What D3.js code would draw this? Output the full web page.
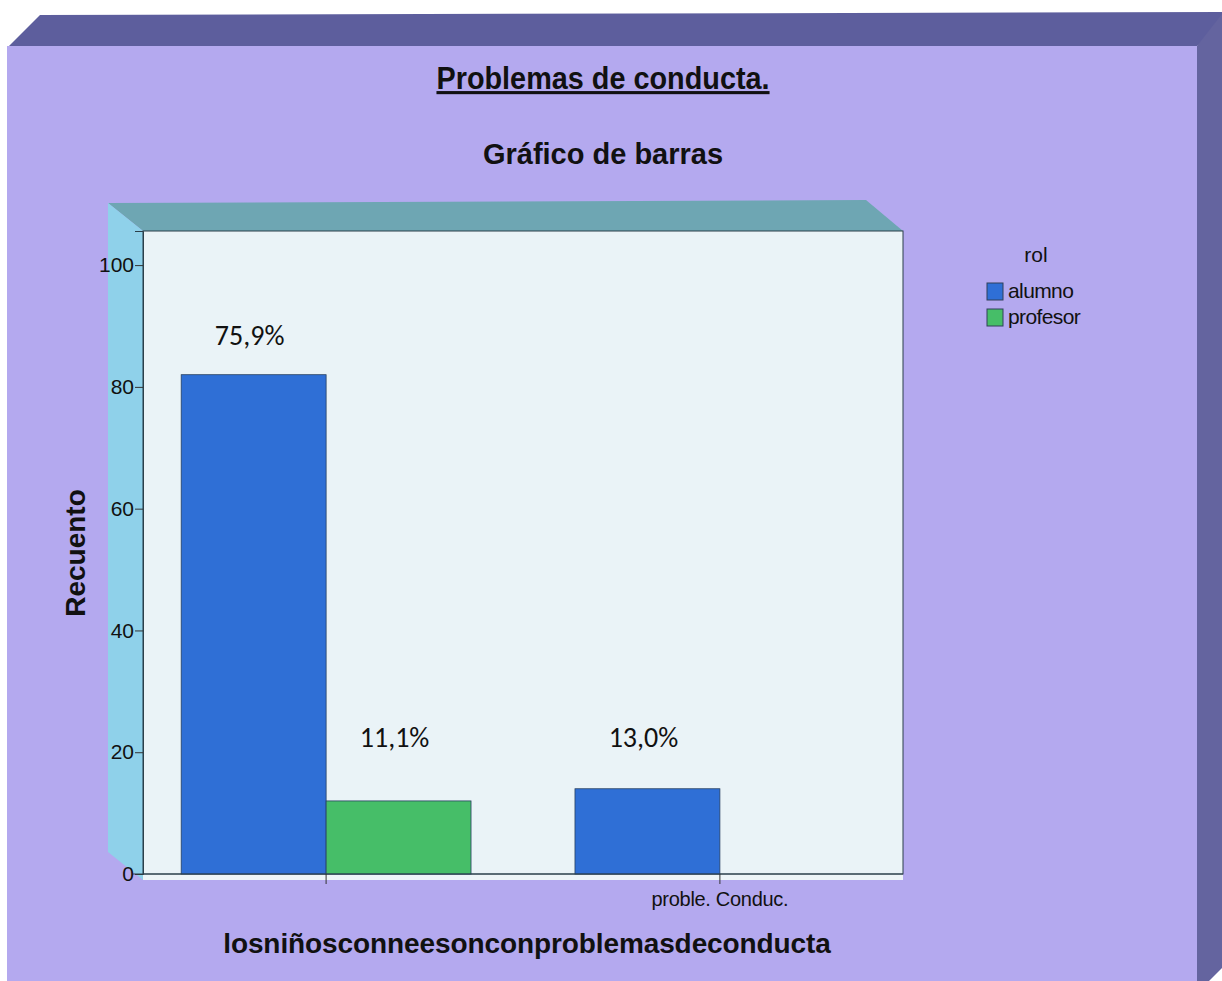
<!DOCTYPE html>
<html>
<head>
<meta charset="utf-8">
<script src="https://cdn.jsdelivr.net/npm/d3@7"></script>
<style>
  body { margin: 0; background: #fff; }
  text { fill: #111; }
</style>
</head>
<body>
<div id="chart"></div>
<script>
// data
const categories = ["", "proble. Conduc."];
const roles = ["alumno", "profesor"];
const alumno = [82, 14];
const profesor = [12, 0];
const yTicks = [0, 20, 40, 60, 80, 100];

const width = 1222, height = 981;
const plot = { left: 143, right: 903, top: 231, bottom: 874 };
const depth = { dx: -35, dy: -28 };

const colors = { alumno: "#2f6fd6", profesor: "#46be68" };
const sans = "'Liberation Sans',Arial,sans-serif";

const svg = d3.select("#chart").append("svg")
  .attr("width", width)
  .attr("height", height);

// outer 3d panel
svg.append("polygon")
  .attr("points", "7,48 40,15 1222,12 1222,30 1197,46")
  .attr("fill", "#5d5e9d");
svg.append("polygon")
  .attr("points", "1197,46 1222,14 1222,968 1209,981 1197,981")
  .attr("fill", "#64649f");
svg.append("rect")
  .attr("x", 7).attr("y", 46)
  .attr("width", 1190).attr("height", 935)
  .attr("fill", "#b4a9ef");

// titles
svg.append("text")
  .attr("transform", "translate(603,89) scale(0.93,1)")
  .attr("text-anchor", "middle")
  .style("font-family", sans)
  .style("font-weight", "bold")
  .style("font-size", "31px")
  .style("text-decoration", "underline")
  .text("Problemas de conducta.");

svg.append("text")
  .attr("x", 603).attr("y", 164)
  .attr("text-anchor", "middle")
  .style("font-family", sans)
  .style("font-weight", "bold")
  .style("font-size", "29px")
  .text("Gráfico de barras");

// plot box with 3d walls
const L = plot.left, R = plot.right, T = plot.top, B = plot.bottom;
svg.append("polygon")
  .attr("points", `${L + depth.dx},${T + depth.dy} ${R - 37},${T + depth.dy - 3} ${R},${T} ${L},${T}`)
  .attr("fill", "#6ea6b3");
svg.append("polygon")
  .attr("points", `${L + depth.dx},${T + depth.dy} ${L},${T} ${L},${B + 6} ${L + depth.dx},${B - 22}`)
  .attr("fill", "#8fd1ea");
svg.append("rect")
  .attr("x", L).attr("y", B)
  .attr("width", R - L).attr("height", 6)
  .attr("fill", "#eef5f8");
svg.append("rect")
  .attr("x", L).attr("y", T)
  .attr("width", R - L).attr("height", B - T)
  .attr("fill", "#eaf3f7")
  .attr("stroke", "#2b3f4a")
  .attr("stroke-width", 1);

// scales
const y = d3.scaleLinear()
  .domain([0, 105.6])
  .range([B, T]);

const x0 = d3.scaleBand()
  .domain(categories)
  .range([L, R])
  .paddingInner(0.264)
  .paddingOuter(0.097);

const x1 = d3.scaleBand()
  .domain(roles)
  .range([0, x0.bandwidth()]);

const rows = [];
categories.forEach((c, i) => {
  rows.push({ cat: c, role: "alumno", value: alumno[i] });
  rows.push({ cat: c, role: "profesor", value: profesor[i] });
});
const total = d3.sum(rows, d => d.value);

svg.append("g")
  .selectAll("rect")
  .data(rows.filter(d => d.value > 0))
  .join("rect")
  .attr("x", d => x0(d.cat) + x1(d.role))
  .attr("y", d => y(d.value))
  .attr("width", x1.bandwidth())
  .attr("height", d => y(0) - y(d.value))
  .attr("fill", d => colors[d.role])
  .attr("stroke", "#274060")
  .attr("stroke-width", 0.8);

// percentage labels
svg.append("g")
  .selectAll("text")
  .data(rows.filter(d => d.value > 0))
  .join("text")
  .attr("x", d => x0(d.cat) + x1(d.role) + x1.bandwidth() / 2 - 4)
  .attr("y", d => y(Math.max(d.value, 16)) - 30)
  .attr("text-anchor", "middle")
  .style("font-family", "Carlito,Lato,'Open Sans',sans-serif")
  .style("font-size", "28px")
  .text(d => (d.value / total * 100).toFixed(1).replace(".", ",") + "%");

// axes
const yAxis = d3.axisLeft(y)
  .tickValues(yTicks)
  .tickSize(8)
  .tickPadding(1);

const gy = svg.append("g")
  .attr("transform", `translate(${L},0)`)
  .call(yAxis);
gy.select(".domain").attr("stroke", "#2b3f4a");
gy.selectAll(".tick line").attr("stroke", "#333");
gy.selectAll(".tick text")
  .style("font-family", sans)
  .style("font-size", "21px")
  .attr("fill", "#111");

const xAxis = d3.axisBottom(x0)
  .tickSize(10)
  .tickPadding(8)
  .offset(0);

const gx = svg.append("g")
  .attr("transform", `translate(0,${B})`)
  .call(xAxis);
gx.select(".domain").attr("d", `M${L - 10},0H${R}`).attr("stroke", "#2b3f4a");
gx.selectAll(".tick line").attr("stroke", "#333");
gx.selectAll(".tick text")
  .style("font-family", sans)
  .style("font-size", "20px")
  .style("letter-spacing", "-0.3px")
  .attr("fill", "#111");

// axis titles
svg.append("text")
  .attr("transform", `translate(85,553) rotate(-90)`)
  .attr("text-anchor", "middle")
  .style("font-family", sans)
  .style("font-weight", "bold")
  .style("font-size", "28px")
  .text("Recuento");

svg.append("text")
  .attr("x", 527).attr("y", 953)
  .attr("text-anchor", "middle")
  .style("font-family", sans)
  .style("font-weight", "bold")
  .style("font-size", "28px")
  .style("letter-spacing", "-0.1px")
  .text("losniñosconneesonconproblemasdeconducta");

// legend
const legend = svg.append("g").attr("transform", "translate(987,0)");
legend.append("text")
  .attr("x", 49).attr("y", 262)
  .attr("text-anchor", "middle")
  .style("font-family", sans)
  .style("font-size", "21px")
  .text("rol");

const items = legend.selectAll("g.item")
  .data(roles)
  .join("g")
  .attr("class", "item")
  .attr("transform", (d, i) => `translate(0,${283 + i * 26})`);
items.append("rect")
  .attr("width", 16).attr("height", 17)
  .attr("fill", d => colors[d])
  .attr("stroke", "#30405a")
  .attr("stroke-width", 1);
items.append("text")
  .attr("x", 21).attr("y", 15)
  .style("font-family", sans)
  .style("font-size", "21px")
  .style("letter-spacing", "-0.6px")
  .text(d => d);
</script>
</body>
</html>
